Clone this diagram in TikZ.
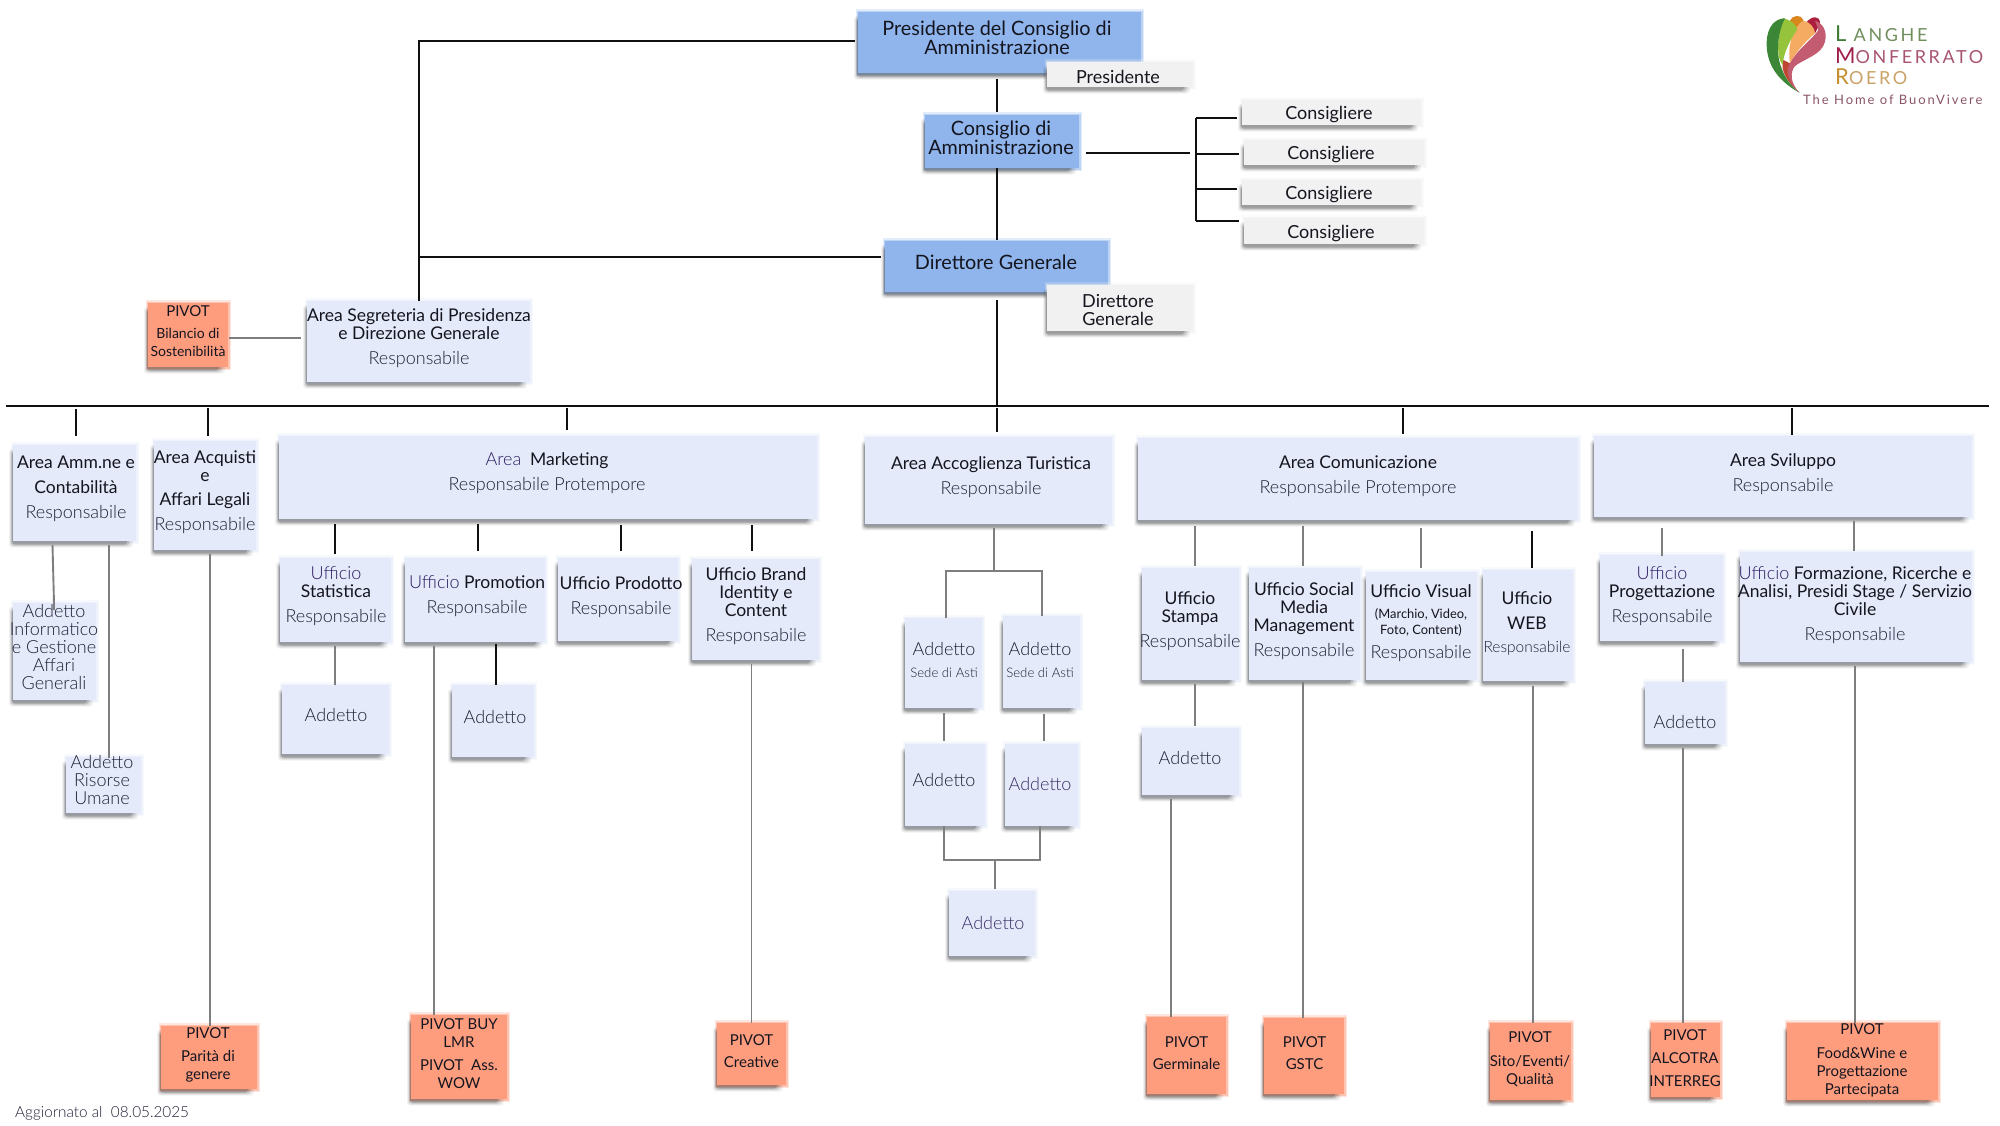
\documentclass[tikz,border=0pt]{standalone}
\usepackage{fontspec}
\usetikzlibrary{calc}
\setmainfont{Lato}
\newfontfamily\lightf{Lato Light}
\newfontfamily\logof[LetterSpace=14.5]{Lato}
\newfontfamily\logot[LetterSpace=15]{Lato}
\definecolor{ink}{HTML}{15151F}
\definecolor{soft}{HTML}{1F2036}
\definecolor{ufcol}{HTML}{2C1C62}
\definecolor{adcol}{HTML}{3C2F68}
\definecolor{areafill}{HTML}{E4EAF9}
\definecolor{topfill}{HTML}{8FB5EC}
\definecolor{greyfill}{HTML}{F1F1F1}
\definecolor{pivfill}{HTML}{FE9C7E}
\definecolor{blackline}{HTML}{101010}
\definecolor{greyline}{HTML}{7E7E7E}
\tikzset{
  areabox/.style={fill=areafill,inner sep=0pt},
  topbox/.style={fill=topfill,inner sep=0pt},
  greybox/.style={fill=greyfill,inner sep=0pt},
  pivbox/.style={fill=pivfill,inner sep=0pt},
  txt/.style={align=center,inner sep=0pt,text=ink,font=\fontsize{17.5}{18}\selectfont},
  blk/.style={draw=blackline,line width=1.9pt},
  gry/.style={draw=greyline,line width=1.9pt},
  shad/.style={fill=black,rounded corners=3pt},
}
\newcommand\Rs[1][Responsabile]{{\fontsize{18}{18}\selectfont\lightf\color{soft}#1}}
\newcommand\RsS{{\fontsize{15.5}{16}\selectfont\lightf\color{soft}Responsabile}}
\newcommand\Uf[1][Ufficio]{{\fontsize{18}{18}\selectfont\lightf\color{ufcol}#1}}
\newcommand\Lt[1]{{\fontsize{18}{18}\selectfont\lightf\color{soft}#1}}
\newcommand\Ad{\Lt{Addetto}}
\newcommand\Adp{{\fontsize{18}{18}\selectfont\lightf\color{adcol}Addetto}}
\newcommand\Sede{{\fontsize{13.2}{14}\selectfont\lightf\color{soft}Sede di Asti}}
\newcommand\Mi[1]{{\fontsize{12.9}{13}\selectfont #1}}
\newcommand\Pv[1]{{\fontsize{15}{16}\selectfont #1}}
% style, name, x0,y0,x1,y1 (with shadow), text cx, text cy, text
\newcommand\bx[9]{%
  \path[#1,fill opacity=.25] (#3,#4-3) rectangle (#5+3,#6-1);
  \path[#1,fill opacity=.45] (#3+1,#4-1.5) rectangle (#5+1.5,#6-2);
  \fill[shad,opacity=.05] (#3-2,#4+4) rectangle (#5-3,#6+2.5);
  \fill[shad,opacity=.08] (#3-1,#4+5) rectangle (#5-5,#6+1.5);
  \fill[shad,opacity=.12] (#3,#4+6) rectangle (#5-7,#6+.5);
  \fill[shad,opacity=.16] (#3+1,#4+7) rectangle (#5-9,#6-.5);
  \node[#1,minimum width=#5pt-#3pt-2pt,minimum height=#6pt-#4pt-4pt] (#2) at ({(#3+#5+2)/2},{(#4+#6-4)/2}) {};
  \node[txt] (#2-t) at (#7,#8+1) {#9};
}
% vertical connector: style, from, x, gap, to, gap
\newcommand\vc[6]{\draw[#1] ($(#2 -| #3,0)+(0,#4)$) -- ($(#5 -| #3,0)+(0,-#6)$);}
\begin{document}
\begin{tikzpicture}[x=1pt,y=-1pt]
\useasboundingbox (0,0) rectangle (2000,1125);
\fill[white] (0,0) rectangle (2000,1125);

% top boxes
\def\bigf{\fontsize{19.8}{20.5}\selectfont}
\bx{topbox}{pres}{856}{12}{1141}{77}{997}{37}{\bigf Presidente del Consiglio di\\\bigf Amministrazione}
\bx{greybox}{presS}{1045}{62}{1193}{91}{1118}{76}{\fontsize{18}{20}\selectfont Presidente}
\bx{topbox}{cda}{923}{115}{1079}{172}{1001}{136.5}{\bigf Consiglio di\\\bigf Amministrazione}
\bx{topbox}{dg}{883}{241}{1108}{296}{996}{261}{\bigf Direttore Generale}
\bx{greybox}{dgS}{1045}{285}{1193}{335}{1118}{308.5}{\fontsize{18}{20}\selectfont Direttore\\\fontsize{18}{20}\selectfont Generale}
\bx{greybox}{c1}{1240}{100}{1421}{129}{1329}{114}{\fontsize{18}{20}\selectfont Consigliere}
\bx{greybox}{c2}{1242}{140}{1424}{169}{1331}{154}{\fontsize{18}{20}\selectfont Consigliere}
\bx{greybox}{c3}{1240}{180}{1421}{209}{1329}{194}{\fontsize{18}{20}\selectfont Consigliere}
\bx{greybox}{c4}{1242}{218}{1424}{248}{1331}{232.5}{\fontsize{18}{20}\selectfont Consigliere}

% staff
\bx{areabox}{seg}{305}{301}{530}{386}{419}{337}{Area Segreteria di Presidenza\\e Direzione Generale\\[7pt]\Rs}
\bx{pivbox}{bil}{146}{303}{228}{371}{188}{330}{\Pv{PIVOT}\\[4pt]\fontsize{14}{15}\selectfont Bilancio di\\\fontsize{14}{15}\selectfont Sostenibilità}

% areas
\bx{areabox}{amm}{11}{445}{136}{545}{76}{488}{Area Amm.ne e\\[7pt]Contabilità\\[7pt]\Rs}
\bx{areabox}{acq}{152}{441}{256}{554}{205}{491}{Area Acquisti\\e\\[6pt]Affari Legali\\[7pt]\Rs}
\bx{areabox}{mkt}{277}{436}{817}{523}{547}{472.5}{\Uf[Area]\ \ Marketing\\[7pt]\Rs[Responsabile Protempore]}
\bx{areabox}{acc}{863}{437}{1112}{528}{991}{476.5}{Area Accoglienza Turistica\\[7pt]\Rs}
\bx{areabox}{com}{1136}{438}{1578}{524}{1358}{475}{Area Comunicazione\\[7pt]\Rs[Responsabile Protempore]}
\bx{areabox}{svi}{1592}{436}{1972}{521}{1783}{473}{Area Sviluppo\\[7pt]\Rs}

% addetti amm
\bx{areabox}{inf}{11}{603}{96}{704}{54}{646}{\Ad\\\Lt{Informatico}\\\Lt{e Gestione}\\\Lt{Affari}\\\Lt{Generali}}
\bx{areabox}{ris}{64}{757}{141}{817}{102}{779}{\Ad\\\Lt{Risorse}\\\Lt{Umane}}

% marketing offices
\bx{areabox}{sta}{278}{558}{391}{646}{336}{595.5}{\Uf\\Statistica\\[7pt]\Rs}
\bx{areabox}{pro}{403}{558}{545}{646}{477}{595.5}{\Uf\ Promotion\\[7pt]\Rs}
\bx{areabox}{prd}{556}{558}{678}{645}{621}{596}{Ufficio Prodotto\\[7pt]\Rs}
\bx{areabox}{bra}{690}{559}{819}{664}{756}{605.5}{Ufficio Brand\\Identity e\\Content\\[7pt]\Rs}
\bx{areabox}{adsta}{280}{685}{389}{758}{336}{714}{\Ad}
\bx{areabox}{adpro}{450}{685}{534}{761}{495}{716}{\Ad}

% accoglienza
\bx{areabox}{a1}{903}{618}{982}{712}{944}{659}{\Ad\\[4pt]\Sede}
\bx{areabox}{a2}{1001}{616}{1080}{712}{1040}{659}{\Ad\\[4pt]\Sede}
\bx{areabox}{a3}{903}{744}{985}{830}{944}{779}{\Ad}
\bx{areabox}{a4}{1003}{744}{1078}{830}{1040}{783}{\Adp}
\bx{areabox}{a5}{947}{891}{1035}{960}{993}{922}{\Adp}

% comunicazione
\bx{areabox}{sta2}{1140}{568}{1239}{684}{1190}{620.5}{Ufficio\\Stampa\\[7pt]\Rs}
\bx{areabox}{soc}{1247}{568}{1360}{684}{1304}{620.5}{Ufficio Social\\Media\\Management\\[7pt]\Rs}
\bx{areabox}{vis}{1364}{572}{1477}{684}{1421}{622}{Ufficio Visual\\[3pt]\Mi{(Marchio, Video,}\\[-2pt]\Mi{Foto, Content)}\\[6pt]\Rs}
\bx{areabox}{web}{1481}{570}{1573}{685}{1527}{622}{Ufficio\\[7pt]WEB\\[5pt]\RsS}
\bx{areabox}{adsta2}{1140}{728}{1239}{799}{1190}{757}{\Ad}

% sviluppo
\bx{areabox}{prg}{1598}{555}{1723}{645}{1662}{595}{\Uf\\Progettazione\\[7pt]\Rs}
\bx{areabox}{for}{1738}{552}{1972}{666}{1855}{604.5}{\Uf\ Formazione, Ricerche e\\Analisi, Presidi Stage / Servizio\\Civile\\[7pt]\Rs}
\bx{areabox}{adprg}{1643}{682}{1725}{748}{1685}{721}{\Ad}

% pivot row
\bx{pivbox}{pac}{159}{1026}{257}{1093}{208}{1054}{\Pv{PIVOT}\\[5pt]\Pv{Parità di}\\\Pv{genere}}
\bx{pivbox}{pbu}{409}{1015}{507}{1103}{459}{1053}{\Pv{PIVOT BUY}\\\Pv{LMR}\\[5pt]\Pv{PIVOT\ \ Ass.}\\\Pv{WOW}}
\bx{pivbox}{pcr}{715}{1023}{786}{1089}{751.5}{1050.5}{\Pv{PIVOT}\\[4pt]\Pv{Creative}}
\bx{pivbox}{pge}{1145}{1017}{1226}{1098}{1186.5}{1052}{\Pv{PIVOT}\\[4pt]\Pv{Germinale}}
\bx{pivbox}{pgs}{1262}{1018}{1344}{1098}{1304.5}{1052.5}{\Pv{PIVOT}\\[4pt]\Pv{GSTC}}
\bx{pivbox}{psi}{1488}{1023}{1571}{1104}{1530}{1058}{\Pv{PIVOT}\\[6pt]\Pv{Sito/Eventi/}\\\Pv{Qualità}}
\bx{pivbox}{pal}{1649}{1023}{1720}{1101}{1685}{1057}{\Pv{PIVOT}\\[5pt]\Pv{ALCOTRA}\\[5pt]\Pv{INTERREG}}
\bx{pivbox}{pfo}{1785}{1023}{1938}{1104}{1862}{1059}{\Pv{PIVOT}\\[6pt]\Pv{Food\&Wine e}\\\Pv{Progettazione}\\\Pv{Partecipata}}

% footer
\node[txt,anchor=west,font=\fontsize{15.3}{16}\selectfont,text=soft] (agg) at (15,1113) {\lightf Aggiornato al\ \ 08.05.2025};

% bus and helper points
\coordinate (busL) at (6,406);
\coordinate (busR) at (1989,406);
\coordinate (lt) at (419,41);
\coordinate (dgl) at (419,257);
\coordinate (bin) at (1190,153);
\coordinate (b1) at (1196,118);
\coordinate (b2) at (1196,154);
\coordinate (b3) at (1196,189);
\coordinate (b4) at (1196,221);
\coordinate (brT) at (994,571);
\coordinate (brL) at (946,571);
\coordinate (brR) at (1042,571);
\coordinate (bbT) at (995,860);
\coordinate (bbL) at (944,860);
\coordinate (bbR) at (1040,860);

% black connectors
\draw[blk] (busL) -- (busR);
\vc{blk}{pres.south}{997}{6}{cda.north}{3}
\vc{blk}{cda.south}{997}{0}{dg.north}{1}
\vc{blk}{dg.south}{997}{8}{busL}{0}
\draw[blk,shorten <=3pt] (pres.west |- lt) -- (lt) -- (seg.north -| lt);
\draw[blk,shorten <=4pt] (dg.west |- dgl) -- (dgl);
\draw[blk,shorten <=7pt] (cda.east |- bin) -- (bin);
\draw[blk] (b1) -- (b4);
\draw[blk,shorten >=5pt] (b1) -- (c1.west |- b1);
\draw[blk,shorten >=5pt] (b2) -- (c2.west |- b2);
\draw[blk,shorten >=5pt] (b3) -- (c3.west |- b3);
\draw[blk,shorten >=5pt] (b4) -- (c4.west |- b4);
\vc{blk}{busL}{76}{3}{amm.north}{9}
\vc{blk}{busL}{208}{2}{acq.north}{5}
\vc{blk}{busL}{567}{2}{mkt.north}{6}
\vc{blk}{busL}{997}{2}{acc.north}{5}
\vc{blk}{busL}{1403}{2}{com.north}{4}
\vc{blk}{busL}{1792}{2}{svi.north}{1}
\vc{blk}{mkt.south}{335}{5}{sta.north}{4}
\vc{blk}{mkt.south}{478}{5}{pro.north}{7}
\vc{blk}{mkt.south}{621}{6}{prd.north}{7}
\vc{blk}{mkt.south}{752}{6}{bra.north}{8}
\vc{blk}{pro.south}{496}{2}{adpro.north}{0}
\vc{blk}{com.south}{1532}{11}{web.north}{2}

% grey connectors
\draw[gry,line width=1.4pt,shorten <=1pt,shorten >=6pt] (bil.east |- 0,338) -- (seg.west |- 0,338);
\draw[gry] (52.5,545) -- (inf.north -| 54,0) -- (54,610);
\vc{gry}{amm.south}{109}{4}{ris.north}{-1}
\vc{gry}{acq.south}{210}{4}{pac.north}{0}
\vc{gry}{sta.south}{335}{4}{adsta.north}{0}
\vc{gry}{pro.south}{434}{4}{pbu.north}{0}
\vc{gry}{bra.south}{751.5}{4}{pcr.north}{0}
\vc{gry}{acc.south}{994}{4}{brT}{0}
\draw[gry] (a1.north -| brL) -- (brL) -- (brR) -- (a2.north -| brR);
\vc{gry}{a1.south}{944}{5}{a3.north}{3}
\vc{gry}{a2.south}{1044}{6}{a4.north}{3}
\draw[gry] (a3.south -| bbL) -- (bbL) -- (bbR) -- (a4.south -| bbR);
\vc{gry}{bbT}{995}{0}{a5.north}{2}
\vc{gry}{com.south}{1195}{6}{sta2.north}{2}
\vc{gry}{com.south}{1303}{6}{soc.north}{2}
\vc{gry}{com.south}{1421}{8}{vis.north}{4}
\vc{gry}{sta2.south}{1195}{4}{adsta2.north}{2}
\vc{gry}{adsta2.south}{1171}{4}{pge.north}{0}
\vc{gry}{soc.south}{1303}{2}{pgs.north}{0}
\vc{gry}{web.south}{1533}{5}{psi.north}{0}
\vc{gry}{svi.south}{1662}{11}{prg.north}{-1}
\vc{gry}{svi.south}{1854}{4}{for.north}{1}
\vc{gry}{prg.south}{1683}{8}{adprg.north}{0}
\vc{gry}{adprg.south}{1683}{4}{pal.north}{0}
\vc{gry}{for.south}{1855}{4}{pfo.north}{0}

% logo
\begin{scope}[shift={(1740,0)},x=0.3333pt,y=-0.3333pt]
\fill[fill={rgb,255:red,215;green,135;blue,30}] (150,62) .. controls (155,45) and (185,42) .. (190,60) -- (190,90) -- (150,90) -- cycle;
\fill[fill={rgb,255:red,172;green,30;blue,62}] (200,66) .. controls (215,48) and (240,45) .. (240,70) -- (225,100) -- (205,85) -- cycle;
\fill[fill={rgb,255:red,245;green,172;blue,98}] (150,190) .. controls (140,130) and (165,75) .. (190,62) .. controls (210,65) and (225,85) .. (225,100) .. controls (190,130) and (165,160) .. (150,190) -- cycle;
\fill[fill={rgb,255:red,190;green,70;blue,50}] (178,278) .. controls (140,245) and (120,210) .. (130,180) -- (150,190) .. controls (145,220) and (155,255) .. (178,278) -- cycle;
\fill[fill={rgb,255:red,195;green,92;blue,112}] (225,62) .. controls (250,70) and (262,95) .. (255,125) .. controls (245,165) and (195,175) .. (165,198) .. controls (150,215) and (150,250) .. (178,278) .. controls (145,250) and (135,210) .. (150,190) .. controls (170,150) and (220,115) .. (235,90) -- cycle;
\fill[fill={rgb,255:red,150;green,195;blue,60}] (130,55) .. controls (150,58) and (170,75) .. (172,88) .. controls (150,120) and (130,160) .. (128,195) .. controls (105,170) and (115,90) .. (130,55) -- cycle;
\fill[fill={rgb,255:red,60;green,135;blue,55}] (178,278) .. controls (110,240) and (78,190) .. (80,125) .. controls (82,80) and (105,55) .. (135,55) .. controls (115,90) and (105,160) .. (125,205) .. controls (135,235) and (155,260) .. (178,278) -- cycle;
\end{scope}
\node[txt,anchor=west] (lg1) at (1835,34) {\logof\fontsize{22}{24}\selectfont\color[HTML]{3F7D35}L{\fontsize{18}{24}\selectfont\color[HTML]{6F8F5C}\ ANGHE}};
\node[txt,anchor=west] (lg2) at (1835,56) {\logof\fontsize{22}{24}\selectfont\color[HTML]{A01C4A}M{\fontsize{18}{24}\selectfont\color[HTML]{A85572}ONFERRATO}};
\node[txt,anchor=west] (lg3) at (1835,77) {\logof\fontsize{22}{24}\selectfont\color[HTML]{C49030}R{\fontsize{18}{24}\selectfont\color[HTML]{CBA268}OERO}};
\node[txt,anchor=west] (lg4) at (1803,100) {\logot\fontsize{13}{14}\selectfont\color[HTML]{8A5565}The Home of BuonVivere};
\end{tikzpicture}
\end{document}
